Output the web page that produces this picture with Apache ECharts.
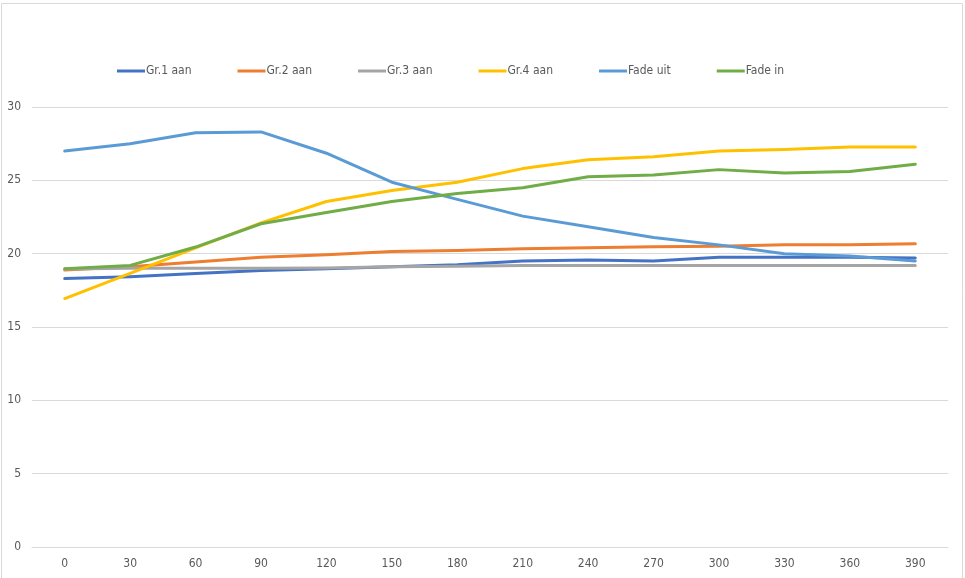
<!DOCTYPE html>
<html>
<head>
<meta charset="utf-8">
<script src="https://cdn.jsdelivr.net/npm/echarts@6/dist/echarts.min.js"></script>
<style>
html, body { margin: 0; padding: 0; background: #fff; }
#chart { width: 965px; height: 578px; }
</style>
</head>
<body>
<div id="chart"></div>
<script>
// tijd in seconden
var categories = ['0', '30', '60', '90', '120', '150', '180', '210', '240', '270', '300', '330', '360', '390'];

var gr1 = [18.3, 18.43, 18.64, 18.86, 18.98, 19.1, 19.25, 19.5, 19.57, 19.5, 19.75, 19.75, 19.75, 19.7];
var gr2 = [18.88, 19.1, 19.43, 19.75, 19.93, 20.14, 20.22, 20.34, 20.4, 20.47, 20.5, 20.6, 20.6, 20.68];
var gr3 = [18.95, 19.0, 19.0, 19.0, 19.02, 19.1, 19.15, 19.2, 19.2, 19.2, 19.2, 19.2, 19.2, 19.2];
var gr4 = [16.94, 18.66, 20.4, 22.1, 23.56, 24.3, 24.87, 25.8, 26.4, 26.6, 27.0, 27.1, 27.28, 27.28];
var fadeUit = [27.0, 27.5, 28.25, 28.3, 26.85, 24.87, 23.7, 22.56, 21.84, 21.1, 20.6, 20.0, 19.84, 19.5];
var fadeIn = [18.98, 19.2, 20.45, 22.04, 22.8, 23.56, 24.1, 24.5, 25.24, 25.37, 25.73, 25.5, 25.6, 26.1];

var yTicks = { min: 0, max: 30, interval: 5 };

var seriesNames = ['Gr.1 aan', 'Gr.2 aan', 'Gr.3 aan', 'Gr.4 aan', 'Fade uit', 'Fade in'];
var seriesData = [gr1, gr2, gr3, gr4, fadeUit, fadeIn];
var colors = ['#4472C4', '#ED7D31', '#A5A5A5', '#FFC000', '#5B9BD5', '#70AD47'];

var font = "'Liberation Sans Narrow', 'DejaVu Sans Condensed', 'Liberation Sans', sans-serif";

var series = [];
for (var i = 0; i < seriesNames.length; i++) {
    series.push({
        name: seriesNames[i],
        type: 'line',
        data: seriesData[i],
        symbol: 'none',
        smooth: false,
        lineStyle: { width: 3, color: colors[i], cap: 'round', join: 'round' },
        itemStyle: { color: colors[i] }
    });
}

var myChart = echarts.init(document.getElementById('chart'));
var option = {
    animation: false,
    backgroundColor: '#ffffff',
    color: colors,
    textStyle: { fontFamily: font },
    graphic: [{
        type: 'rect',
        shape: { x: 1.5, y: 3.5, width: 961, height: 580 },
        style: { fill: 'none', stroke: '#d9d9d9', lineWidth: 1 },
        silent: true
    }],
    legend: {
        top: 60,
        left: 112,
        itemWidth: 28,
        itemHeight: 3,
        itemGap: 46,
        icon: 'rect',
        textStyle: { color: '#595959', fontSize: 12, fontFamily: font, padding: [0, 0, 0, -4] },
        data: seriesNames
    },
    grid: { left: 32, right: 17, top: 107, bottom: 31 },
    xAxis: {
        type: 'category',
        boundaryGap: true,
        data: categories,
        axisLine: { show: true, lineStyle: { color: '#d9d9d9' } },
        axisTick: { show: false },
        axisLabel: { color: '#595959', fontSize: 12, margin: 11, fontFamily: font }
    },
    yAxis: {
        type: 'value',
        min: yTicks.min,
        max: yTicks.max,
        interval: yTicks.interval,
        axisLine: { show: false },
        axisTick: { show: false },
        axisLabel: { color: '#595959', fontSize: 12, margin: 11, fontFamily: font },
        splitLine: { show: true, lineStyle: { color: '#d9d9d9', width: 1 } }
    },
    series: series
};
myChart.setOption(option);
</script>
</body>
</html>
